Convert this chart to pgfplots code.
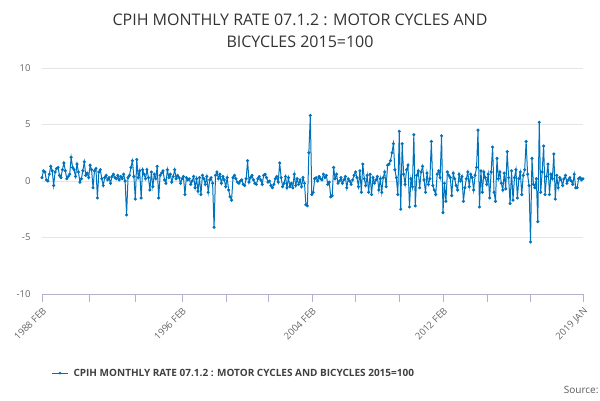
\documentclass[border=0pt]{standalone}
\usepackage{pgfplots}
\pgfplotsset{compat=1.18}
\usepackage{pgfplotstable}
\usepackage{fontspec}
\setmainfont{Open Sans}
\definecolor{ln}{RGB}{0,114,188}
\definecolor{tk}{RGB}{102,102,102}
\pgfplotstableread{
y
0.3
0.9
0.8
0.1
0.0
0.6
1.3
0.9
-0.4
0.8
1.1
1.2
0.5
0.3
1.0
1.6
0.9
0.2
0.4
0.6
2.1
1.2
1.0
0.4
1.5
0.8
-0.1
0.2
0.9
1.7
0.5
0.7
0.3
1.4
1.0
-0.6
0.9
1.1
-1.5
0.8
1.0
0.2
-0.4
0.3
0.5
0.1
0.3
-0.2
0.4
0.6
0.3
0.2
0.5
0.1
0.4
0.2
0.6
0.0
-3.0
0.3
0.5
1.2
1.8
0.4
-1.6
1.9
0.3
0.9
-1.5
1.0
0.6
0.2
1.0
0.3
-0.8
0.8
-0.5
0.6
0.2
1.3
-1.5
0.5
0.7
0.9
0.1
-0.2
1.0
0.3
0.6
-0.1
0.4
1.0
0.2
0.5
0.3
-0.2
0.2
0.4
-1.2
0.3
0.1
0.2
-0.3
0.0
0.4
-0.6
0.2
-0.9
0.3
-1.2
0.5
0.2
-0.3
0.4
-1.0
0.1
0.3
-0.2
-4.1
0.5
0.8
0.2
0.6
-0.2
0.4
0.1
-0.5
0.3
-0.8
-1.4
-1.7
0.3
0.5
0.2
-0.1
-0.2
0.0
0.1
-0.3
-0.4
0.2
1.8
-0.1
0.3
0.5
0.1
-0.2
-0.3
0.2
0.4
0.1
-0.3
0.5
0.6
0.3
-0.1
0.0
-0.4
-0.6
-0.3
0.2
0.4
-0.1
1.6
0.3
-0.5
-0.2
0.4
-0.6
0.3
-0.5
-0.2
-0.6
0.6
-0.4
0.2
-0.3
0.1
-0.5
0.3
-0.2
-2.1
-2.2
2.5
5.8
-1.2
-1.0
0.2
0.3
0.0
0.4
0.2
0.1
0.6
0.3
0.5
-0.3
-0.1
-1.4
-1.3
1.2
0.2
0.6
-0.2
0.0
0.3
-0.2
0.1
0.4
-0.6
0.2
0.0
-0.3
0.1
0.5
0.8
0.3
-0.5
0.9
-1.0
1.5
0.2
-0.4
0.5
-1.0
0.6
-1.2
0.3
-0.2
0.1
0.4
-0.8
0.2
-1.0
0.3
0.8
-0.5
1.4
1.5
1.8
2.5
3.3
1.0
0.3
-1.2
4.4
-2.5
3.3
0.6
-0.3
1.0
1.4
-2.3
0.2
-0.5
4.1
-2.2
0.5
0.9
-0.6
0.8
1.3
0.1
-1.0
0.7
-0.3
0.2
3.5
-0.4
-0.8
-1.2
0.6
0.9
0.3
4.0
-2.8
-0.2
-1.8
0.8
0.5
0.3
-1.3
0.7
0.2
-0.4
-0.8
0.6
0.0
0.4
-1.8
-0.6
0.2
0.8
-0.5
0.6
0.3
-0.8
0.5
1.2
4.5
-2.3
0.9
-1.0
0.8
0.3
-0.3
0.6
-1.5
0.8
3.0
-1.0
-1.8
2.0
0.2
0.8
-0.2
-0.8
0.7
-0.7
2.6
0.3
-2.0
0.9
-1.7
0.3
1.0
-1.5
0.2
0.8
-1.2
0.5
1.0
3.5
0.6
-0.4
-5.4
2.0
-0.3
-0.6
0.2
-3.6
5.2
-1.0
0.8
3.1
-1.2
0.4
1.5
-1.2
0.6
0.2
2.4
-1.6
0.5
-0.6
0.3
0.1
-0.4
0.2
0.5
-0.2
0.1
0.3
0.0
-0.3
0.6
-0.6
-0.6
0.2
0.3
0.1
0.2
}\data
\begin{document}
\begin{tikzpicture}[x=1pt,y=1pt]
\begin{axis}[
  at={(0,0)}, anchor=south west,
  scale only axis, width=541pt, height=226pt,
  xmin=0, xmax=371, ymin=-10, ymax=10,
  ytick={-10,-5,0,5,10},
  xtick={0,96,185,275,371},
  xticklabels={1988 FEB,1996 FEB,2004 FEB,2012 FEB,2019 JAN},
  minor xtick={32,64,126,155,215,245,305,335},
  x tick label style={rotate=45,anchor=north east,font=\fontsize{9.5}{11}\selectfont,text=tk},
  y tick label style={font=\fontsize{9.5}{11}\selectfont,text=tk},
  /pgf/number format/assume math mode=true,
  ymajorgrids, grid style={gray!20},
  axis x line*=bottom, axis y line*=left,
  y axis line style={draw=none},
  ytick style={draw=none},
  x axis line style={draw=blue!20!gray!50},
  xtick style={draw=blue!20!gray!50},
  tick align=outside, major tick length=8pt, minor tick length=8pt,
  xtick pos=bottom,
  clip=false,
]
\addplot[color=ln, line width=1pt, mark=*, mark size=1pt] table[x expr=\coordindex, y=y]{\data};
\end{axis}
\path[use as bounding box] (-42pt,-106pt) rectangle (558pt,294pt);
\node[align=center,font=\fontsize{16}{22}\selectfont,text=black!80] at (258pt,263pt) {CPIH MONTHLY RATE 07.1.2 : MOTOR CYCLES AND\\BICYCLES 2015=100};
\draw[ln,line width=1pt] (10pt,-79pt) -- (26pt,-79pt);
\fill[ln] (18pt,-79pt) circle (1.5pt);
\node[anchor=west,font=\bfseries\fontsize{10}{12}\selectfont,text=black!75] at (28pt,-79pt) {CPIH MONTHLY RATE 07.1.2 : MOTOR CYCLES AND BICYCLES 2015=100};
\node[anchor=east,font=\fontsize{10}{12}\selectfont,text=black!65] at (560pt,-96pt) {Source:};
\end{tikzpicture}
\end{document}
